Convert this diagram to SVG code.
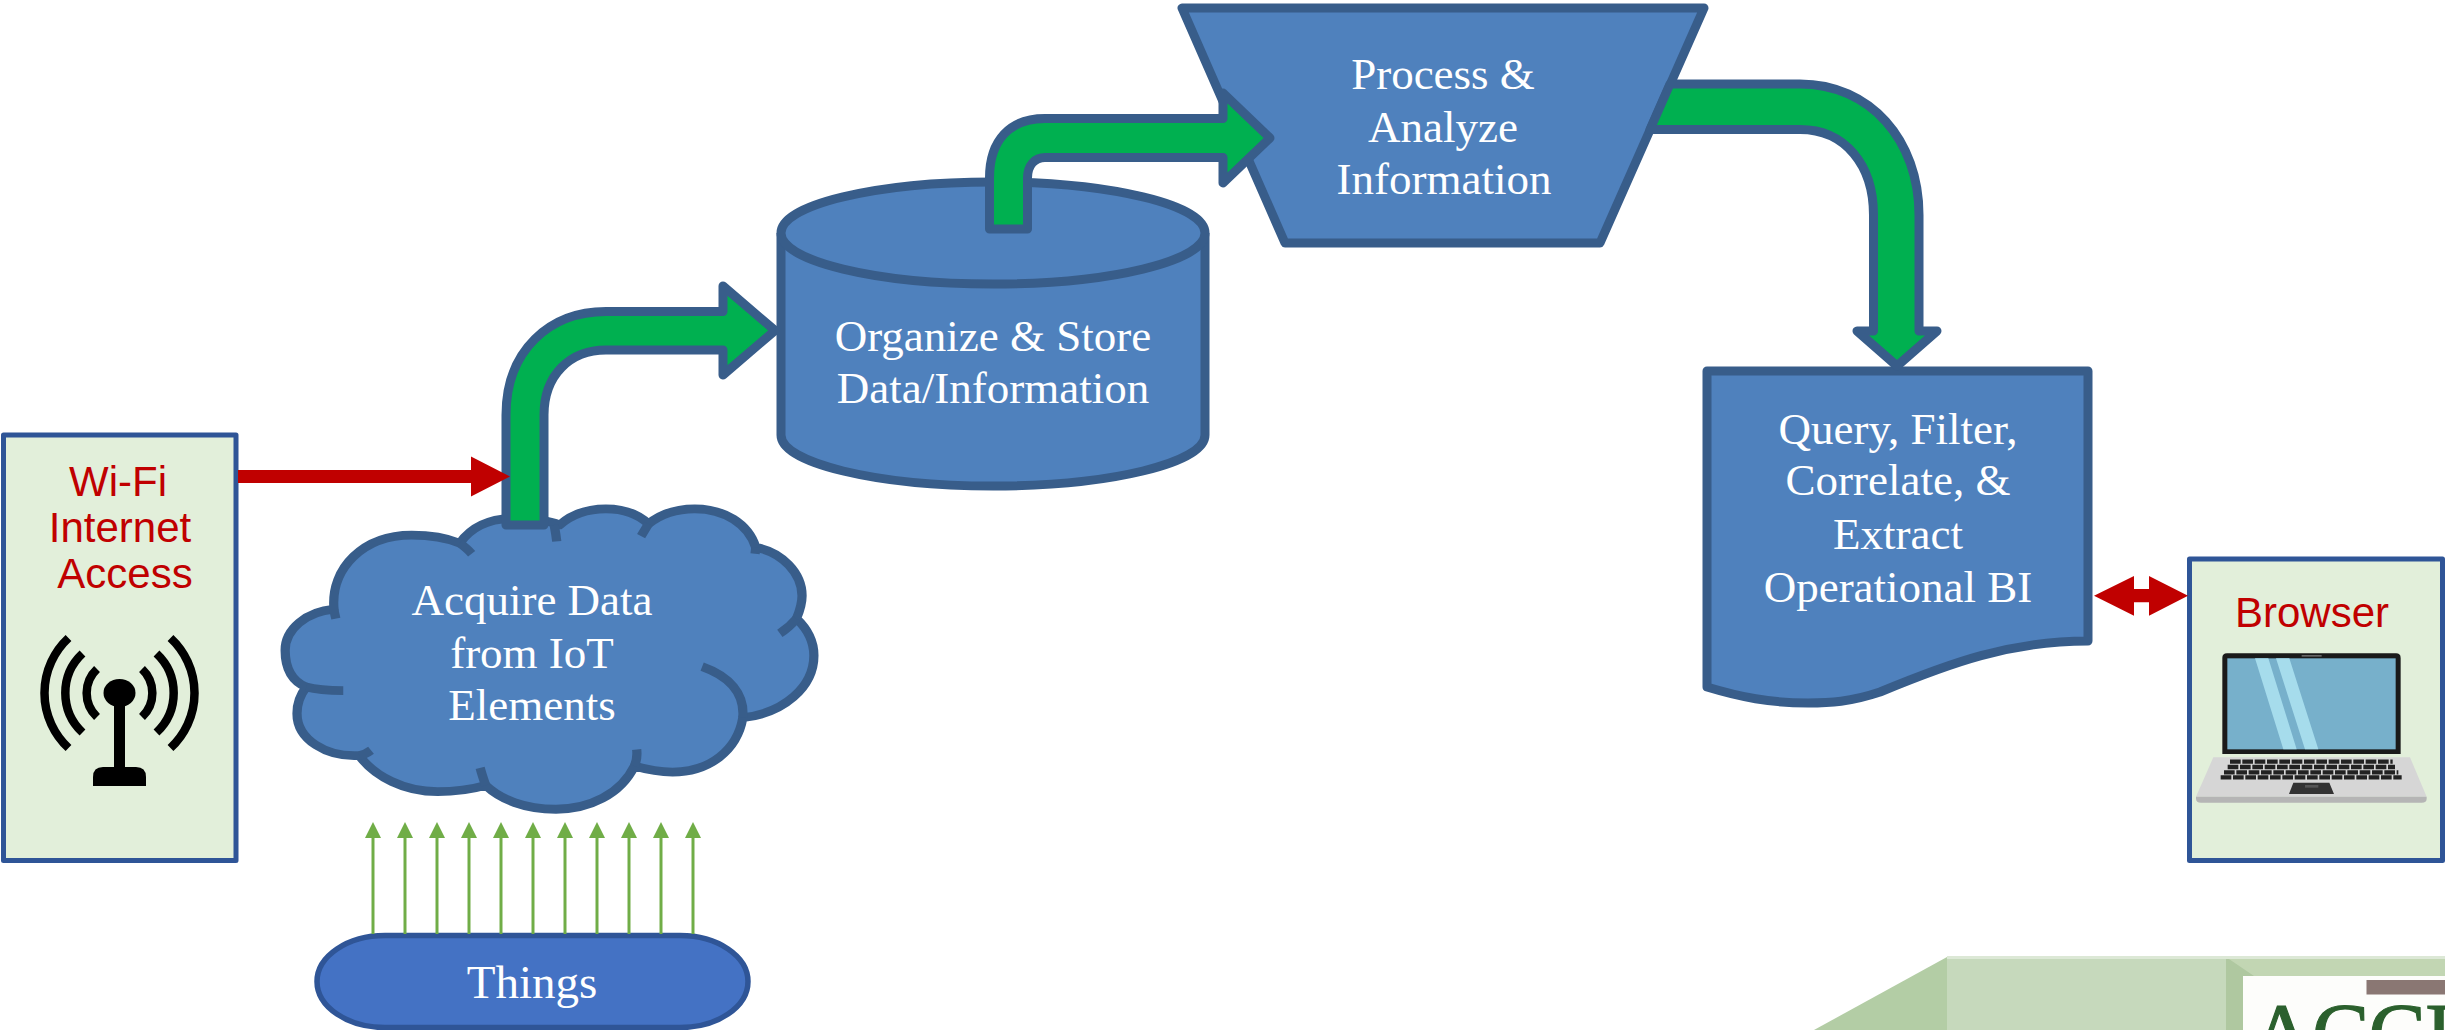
<svg xmlns="http://www.w3.org/2000/svg" width="2445" height="1030" viewBox="0 0 2445 1030">
<style>
.shape{fill:#4F81BD;stroke:#385D8A;stroke-width:9;stroke-linejoin:round}
.hook{fill:none;stroke:#385D8A;stroke-width:25;stroke-linecap:butt}
.panel{fill:#E2EFDA;stroke:#2F5597;stroke-width:5;stroke-linejoin:round}
.flow{fill:#00B050;stroke:#385D8A;stroke-width:9;stroke-linejoin:round}
.red{fill:#C00000;stroke:none}
.up{fill:none;stroke:#70AD47;stroke-width:3;marker-end:url(#tri)}
.t{font-family:"Liberation Serif","Times New Roman",serif;font-size:45px;fill:#fff;text-anchor:middle}
.s{font-family:"Liberation Sans",Arial,sans-serif;font-size:42px;fill:#C00000;text-anchor:middle}
.wave{fill:none;stroke:#000;stroke-width:8.5}
.key{fill:none;stroke:#222;stroke-width:13;stroke-dasharray:32 5}
</style>
<defs>
<marker id="tri" markerUnits="userSpaceOnUse" markerWidth="16" markerHeight="16" refX="0" refY="8" orient="auto"><path d="M0 0L16 8L0 16Z" fill="#70AD47"/></marker>
</defs>
<rect width="2445" height="1030" fill="#fff"/>

<g id="node-logo">
<path d="M1947 957L1814 1030H1947Z" fill="#B3CDA5"/>
<rect x="1947" y="957" width="279" height="73" fill="#C6D9BC"/>
<rect x="2226" y="957" width="219" height="19" fill="#C2D6B3"/>
<path d="M2226 957L2254 976H2243V1030H2226Z" fill="#AFC8A0"/>
<rect x="1947" y="956" width="498" height="3" fill="#DCE8D6"/>
<rect x="2243" y="976" width="202" height="54" fill="#FDFDFB"/>
<rect x="2366.5" y="980" width="78.5" height="14.5" fill="#8A7773"/>
<text x="2251" y="1063" font-family="'Liberation Serif','Times New Roman',serif" font-size="86" letter-spacing="-1" fill="#2B602D" stroke="#2B602D" stroke-width="1.2">ACCI</text>
</g>

<g id="node-wifi">
<rect class="panel" x="3.5" y="435" width="232.5" height="425.5"/>
<text class="s" x="118" y="496">Wi-Fi</text>
<text class="s" x="120" y="542">Internet</text>
<text class="s" x="125" y="588">Access</text>
<g id="wifi-icon">
<path class="wave" d="M97 669A33 33 0 0 0 97 717M142 669A33 33 0 0 1 142 717"/>
<path class="wave" d="M82.500 653.500A54 54 0 0 0 82.500 732.500M156.500 653.500A54 54 0 0 1 156.500 732.500"/>
<path class="wave" d="M68.500 638A75 75 0 0 0 68.500 748M170.500 638A75 75 0 0 1 170.500 748"/>
<ellipse cx="119.500" cy="693" rx="16" ry="14"/>
<rect x="114" y="700" width="11" height="70"/>
<path d="M93 786V777Q93 767 103 767H136Q146 767 146 777V786Z"/>
</g>
</g>

<g id="node-cloud">
<g transform="translate(260 480) scale(.37 .351)">
<path fill="#4F81BD" stroke="#385D8A" stroke-width="25" stroke-linejoin="round" d="M125 590C80 570 68 530 68 485C68 425 125 375 200 368C190 250 280 157 410 157C460 157 505 165 540 180C570 135 620 110 680 110C730 110 780 115 810 128C840 100 880 82 935 82C985 82 1025 100 1050 125C1085 95 1130 82 1175 82C1255 82 1320 125 1340 192C1410 205 1465 265 1465 330C1465 355 1458 375 1450 395C1480 425 1497 460 1497 500C1497 590 1415 665 1305 677C1290 770 1215 832 1115 832C1080 832 1045 825 1012 815C975 895 890 938 800 938C715 938 650 910 610 870C570 882 530 888 480 888C390 888 310 845 268 785C180 790 100 740 100 665C100 635 110 610 125 590Z"/>
<path class="hook" d="M125 590C150 597 185 600 225 600M200 368C200 375 203 385 205 395M540 180C550 188 562 198 572 210M795 128C798 145 800 155 802 175M1050 125L1030 160M1340 192L1338 210M1450 395C1438 410 1422 425 1405 437M1305 677C1310 610 1270 560 1195 532M1012 815C1018 800 1020 785 1018 768M610 870C605 855 600 840 595 820M268 785C280 783 290 778 300 770"/>
</g>
<text class="t" x="532" y="615">Acquire Data</text>
<text class="t" x="532" y="668">from IoT</text>
<text class="t" x="532" y="720">Elements</text>
</g>

<g id="node-things">
<rect x="317" y="935.500" width="431" height="92" rx="68" ry="46" fill="#4472C4" stroke="#2F5597" stroke-width="5.500"/>
<text class="t" x="532" y="997.500" style="font-size:47px">Things</text>
</g>

<g id="node-store">
<path class="shape" d="M781 233V435C781 463 876 486 993 486S1205 463 1205 435V233"/>
<ellipse class="shape" cx="993" cy="233" rx="212" ry="51"/>
<text class="t" x="993" y="351">Organize &amp; Store</text>
<text class="t" x="993" y="403">Data/Information</text>
</g>

<g id="node-process">
<path class="shape" d="M1182 8H1704L1600 243H1285Z"/>
<text class="t" x="1443" y="89">Process &amp;</text>
<text class="t" x="1443" y="142">Analyze</text>
<text class="t" x="1444" y="194">Information</text>
</g>

<g id="node-query">
<path class="shape" d="M1707 371H2088V641C2010 641 1950 663 1880 692C1850 702 1830 703 1808 703C1770 703 1740 697 1707 687Z"/>
<text class="t" x="1898" y="444">Query, Filter,</text>
<text class="t" x="1898" y="495">Correlate, &amp;</text>
<text class="t" x="1898" y="549">Extract</text>
<text class="t" x="1898" y="602">Operational BI</text>
</g>

<g id="node-browser">
<rect class="panel" x="2189.500" y="559" width="253" height="301.500"/>
<text class="s" x="2312" y="627">Browser</text>
<g id="laptop" transform="translate(2080 540) scale(.33333)">
<path d="M400 652H990L1040 770H348Z" fill="#D6D6D6"/>
<path d="M348 770H1040V776Q1040 788 1025 788H363Q348 788 348 776Z" fill="#B5B5B5"/>
<path d="M427 642V354Q427 340 441 340H948Q962 340 962 354V642Z" fill="#1A1A1A"/>
<rect x="442" y="355" width="505" height="273" fill="#77B0CB"/>
<path d="M525 355H565L650 628H610ZM588 355H628L715 628H675Z" fill="#A6DCEC"/>
<rect x="665" y="345" width="60" height="5" fill="#666"/>
<path class="key" d="M450 665H938M443 681H945M432 697H955M422 712H965"/>
<path d="M640 728H748L762 762H627Z" fill="#333"/>
<rect x="675" y="735" width="40" height="8" fill="#555"/>
</g>
</g>

<g id="connectors">
<path class="flow" d="M506 525V415C506 350 550 311.500 606 311.500H723V286L775 330.500L723 375V350H606C570 350 544 375 544 415V525Z"/>
<path class="flow" d="M989.500 229V178C989.500 140 1010 118.500 1045 118.500H1223V93L1270 138L1223 183V157.500H1045C1035 157.500 1027.500 165 1027.500 178V229Z"/>
<path class="flow" d="M1670 84H1800C1870 84 1919 140 1919 215V331H1937L1897 366L1857 331H1873.500V215C1873.500 165 1845 129.500 1800 129.500H1650Z"/>
<path class="red" d="M238 470H471V456.500L510 476.500L471 496.500V483H238Z"/>
<path class="red" d="M2094 595.700L2134 576V589H2149V576L2188 595.700L2149 615.700V602.300H2134V615.700Z"/>
<path class="up" d="M373 934V838"/><path class="up" d="M405 934V838"/><path class="up" d="M437 934V838"/><path class="up" d="M469 934V838"/><path class="up" d="M501 934V838"/><path class="up" d="M533 934V838"/><path class="up" d="M565 934V838"/><path class="up" d="M597 934V838"/><path class="up" d="M629 934V838"/><path class="up" d="M661 934V838"/><path class="up" d="M693 934V838"/>
</g>
</svg>
